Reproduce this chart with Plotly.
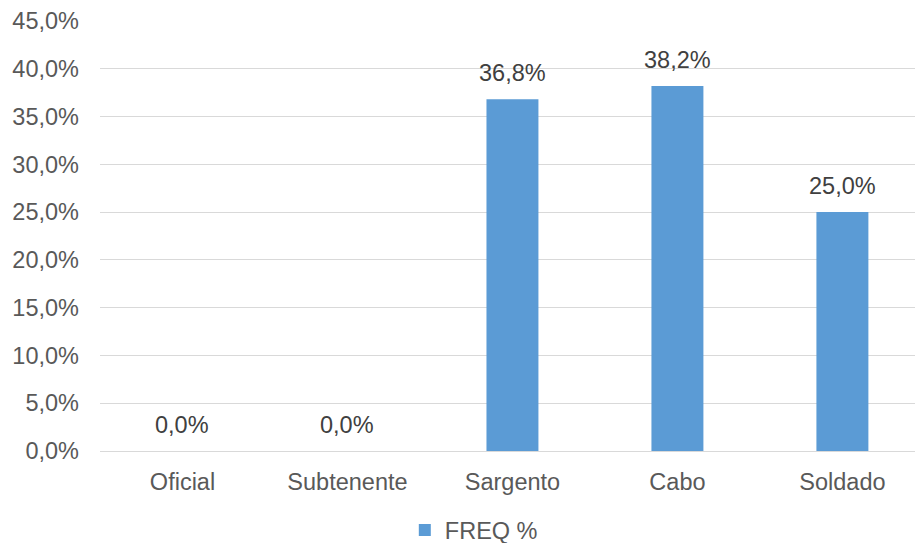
import plotly.graph_objects as go

categories = ["Oficial", "Subtenente", "Sargento", "Cabo", "Soldado"]
freq_pct = [0.0, 0.0, 36.8, 38.2, 25.0]
series_name = "FREQ %"
y_ticks = [0, 5, 10, 15, 20, 25, 30, 35, 40, 45]
y_tick_labels = [f"{t:.1f}%".replace(".", ",") for t in y_ticks]

BLUE = "#5B9BD5"
FONT = "Liberation Sans, Arial, sans-serif"
FS = 23.5

fig = go.Figure()
fig.add_trace(go.Bar(
    x=categories, y=freq_pct, name=series_name,
    marker=dict(color=BLUE, line=dict(width=0)),
    width=0.315, showlegend=True,
))

for c, v in zip(categories, freq_pct):
    fig.add_annotation(
        x=c, y=v, xref="x", yref="y",
        text=f"{v:.1f}%".replace(".", ","),
        showarrow=False, yanchor="bottom", yshift=11,
        font=dict(family=FONT, size=FS, color="#404040"),
    )

fig.update_layout(
    width=915, height=543,
    margin=dict(l=100, r=0, t=21, b=92, autoexpand=False),
    paper_bgcolor="white", plot_bgcolor="white",
    font=dict(family=FONT, size=FS, color="#595959"),
    xaxis=dict(
        range=[-0.5, 4.44], showgrid=False, showline=False, zeroline=False,
        ticks="", ticklabelstandoff=14, automargin=False,
        tickfont=dict(family=FONT, size=FS, color="#595959"),
    ),
    yaxis=dict(
        range=[0, 45], tickvals=y_ticks, ticktext=y_tick_labels,
        showgrid=True, gridcolor="#D9D9D9", gridwidth=1.3,
        zeroline=True, zerolinecolor="#D9D9D9", zerolinewidth=1.3,
        showline=False, ticks="", ticklabelstandoff=20, automargin=False,
        tickfont=dict(family=FONT, size=FS, color="#595959"),
    ),
    legend=dict(
        orientation="h", x=0.374, xanchor="left", y=-0.184, yanchor="middle",
        font=dict(family=FONT, size=FS, color="#595959"),
        itemwidth=30, bgcolor="rgba(0,0,0,0)",
    ),
)

fig.write_html("out.html")
